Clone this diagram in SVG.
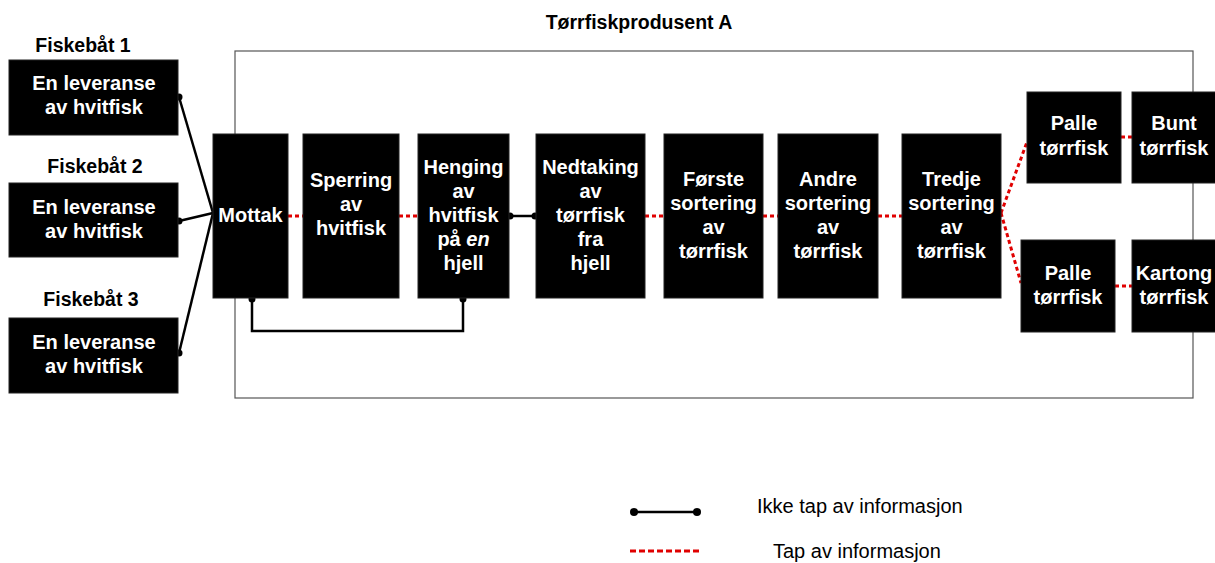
<svg xmlns="http://www.w3.org/2000/svg" width="1215" height="563" viewBox="0 0 1215 563">
  <defs>
    <style>
      .box { fill: #000; stroke: #222; stroke-width: 1; }
      .bt { font-family: "Liberation Sans", Arial, sans-serif; font-weight: bold; font-size: 20px; fill: #fff; text-anchor: middle; }
      .hd { font-family: "Liberation Sans", Arial, sans-serif; font-weight: bold; font-size: 19.5px; fill: #000; text-anchor: middle; }
      .lg { font-family: "Liberation Sans", Arial, sans-serif; font-size: 20px; fill: #000; }
      .ok { fill: none; stroke: #000; stroke-width: 2.5; }
      .loss { fill: none; stroke: #e00000; stroke-width: 3; stroke-dasharray: 4 3; }
      .dot { fill: #000; }
    </style>
  </defs>

  <rect id="background" x="0" y="0" width="1215" height="563" fill="#fff"/>

  <!-- producer boundary -->
  <g id="producer">
    <rect x="235" y="51" width="958" height="347" fill="none" stroke="#555" stroke-width="1.2"/>
    <text class="hd" x="639" y="29" font-size="20px">Tørrfiskprodusent A</text>
  </g>

  <!-- connectors -->
  <g id="connectors">
    <line class="ok" x1="179" y1="97" x2="213" y2="213"/>
    <line class="ok" x1="179" y1="221" x2="213" y2="213"/>
    <line class="ok" x1="179" y1="353" x2="213" y2="213"/>
    <circle class="dot" cx="179" cy="97" r="3.5"/>
    <circle class="dot" cx="179" cy="221" r="3.5"/>
    <circle class="dot" cx="179" cy="353" r="3.5"/>

    <polyline class="ok" points="252,298 252,331 463,331 463,298"/>
    <circle class="dot" cx="252" cy="299" r="3.5"/>
    <circle class="dot" cx="463" cy="299" r="3.5"/>

    <line class="ok" x1="509" y1="216" x2="536" y2="216"/>
    <circle class="dot" cx="510" cy="216" r="3.5"/>
    <circle class="dot" cx="535" cy="216" r="3.5"/>

    <line class="loss" x1="288" y1="216" x2="303" y2="216"/>
    <line class="loss" x1="399" y1="216" x2="418" y2="216"/>
    <line class="loss" x1="645" y1="216" x2="664" y2="216"/>
    <line class="loss" x1="763" y1="216" x2="778" y2="216"/>
    <line class="loss" x1="878" y1="216" x2="902" y2="216"/>
    <line class="loss" x1="1001" y1="213" x2="1027" y2="142"/>
    <line class="loss" x1="1001" y1="213" x2="1021" y2="283"/>
    <line class="loss" x1="1121" y1="137" x2="1132" y2="137"/>
    <line class="loss" x1="1115" y1="286" x2="1132" y2="286"/>
  </g>

  <!-- fishing boats -->
  <g id="boat1">
    <text class="hd" x="83" y="52">Fiskebåt 1</text>
    <rect class="box" x="9" y="60" width="169" height="75"/>
    <text class="bt" x="94" y="90">En leveranse</text>
    <text class="bt" x="94" y="114">av hvitfisk</text>
  </g>
  <g id="boat2">
    <text class="hd" x="95" y="173">Fiskebåt 2</text>
    <rect class="box" x="9" y="183" width="169" height="74"/>
    <text class="bt" x="94" y="214">En leveranse</text>
    <text class="bt" x="94" y="238">av hvitfisk</text>
  </g>
  <g id="boat3">
    <text class="hd" x="91" y="306">Fiskebåt 3</text>
    <rect class="box" x="9" y="318" width="169" height="75"/>
    <text class="bt" x="94" y="349">En leveranse</text>
    <text class="bt" x="94" y="373">av hvitfisk</text>
  </g>

  <!-- process steps -->
  <g id="mottak">
    <rect class="box" x="213" y="134" width="75" height="164"/>
    <text class="bt" x="250.5" y="222">Mottak</text>
  </g>
  <g id="sperring">
    <rect class="box" x="303" y="134" width="96" height="164"/>
    <text class="bt" x="351" y="187">Sperring</text>
    <text class="bt" x="351" y="211">av</text>
    <text class="bt" x="351" y="235">hvitfisk</text>
  </g>
  <g id="henging">
    <rect class="box" x="418" y="134" width="91" height="164"/>
    <text class="bt" x="463.5" y="174">Henging</text>
    <text class="bt" x="463.5" y="198">av</text>
    <text class="bt" x="463.5" y="222">hvitfisk</text>
    <text class="bt" x="463.5" y="246">på <tspan font-style="italic">en</tspan></text>
    <text class="bt" x="463.5" y="270">hjell</text>
  </g>
  <g id="nedtaking">
    <rect class="box" x="536" y="134" width="109" height="164"/>
    <text class="bt" x="590.5" y="174">Nedtaking</text>
    <text class="bt" x="590.5" y="198">av</text>
    <text class="bt" x="590.5" y="222">tørrfisk</text>
    <text class="bt" x="590.5" y="246">fra</text>
    <text class="bt" x="590.5" y="270">hjell</text>
  </g>
  <g id="forste">
    <rect class="box" x="664" y="134" width="99" height="164"/>
    <text class="bt" x="713.5" y="186">Første</text>
    <text class="bt" x="713.5" y="210">sortering</text>
    <text class="bt" x="713.5" y="234">av</text>
    <text class="bt" x="713.5" y="258">tørrfisk</text>
  </g>
  <g id="andre">
    <rect class="box" x="778" y="134" width="100" height="164"/>
    <text class="bt" x="828" y="186">Andre</text>
    <text class="bt" x="828" y="210">sortering</text>
    <text class="bt" x="828" y="234">av</text>
    <text class="bt" x="828" y="258">tørrfisk</text>
  </g>
  <g id="tredje">
    <rect class="box" x="902" y="134" width="99" height="164"/>
    <text class="bt" x="951.5" y="186">Tredje</text>
    <text class="bt" x="951.5" y="210">sortering</text>
    <text class="bt" x="951.5" y="234">av</text>
    <text class="bt" x="951.5" y="258">tørrfisk</text>
  </g>
  <g id="palle1">
    <rect class="box" x="1027" y="92" width="94" height="91"/>
    <text class="bt" x="1074" y="130">Palle</text>
    <text class="bt" x="1074" y="155">tørrfisk</text>
  </g>
  <g id="bunt">
    <rect class="box" x="1132" y="92" width="90" height="91"/>
    <text class="bt" x="1174" y="130">Bunt</text>
    <text class="bt" x="1174" y="155">tørrfisk</text>
  </g>
  <g id="palle2">
    <rect class="box" x="1021" y="240" width="94" height="92"/>
    <text class="bt" x="1068" y="280">Palle</text>
    <text class="bt" x="1068" y="304">tørrfisk</text>
  </g>
  <g id="kartong">
    <rect class="box" x="1132" y="240" width="90" height="92"/>
    <text class="bt" x="1174" y="280">Kartong</text>
    <text class="bt" x="1174" y="304">tørrfisk</text>
  </g>

  <!-- legend -->
  <g id="legend">
    <line class="ok" x1="634" y1="512" x2="697" y2="512"/>
    <circle class="dot" cx="634" cy="512" r="4"/>
    <circle class="dot" cx="697" cy="512" r="4"/>
    <text class="lg" x="757" y="513">Ikke tap av informasjon</text>
    <line x1="630" y1="551" x2="700" y2="551" stroke="#e00000" stroke-width="3" stroke-dasharray="6 3"/>
    <text class="lg" x="773" y="558">Tap av informasjon</text>
  </g>
</svg>
